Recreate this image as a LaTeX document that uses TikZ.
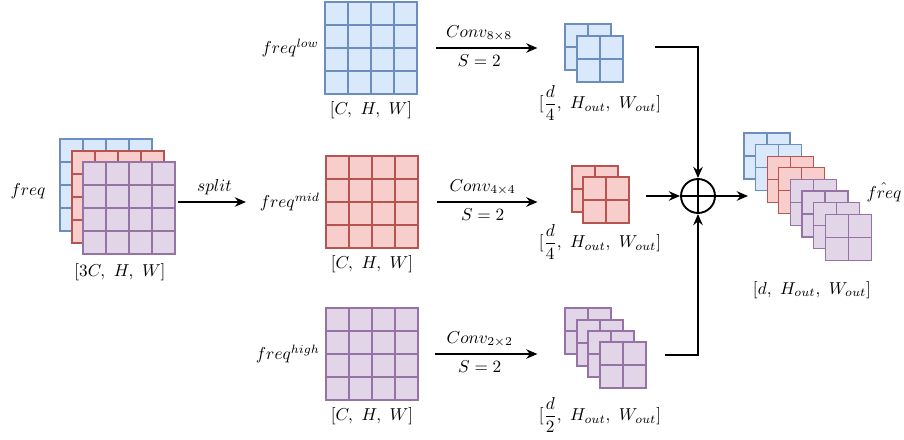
\documentclass[tikz,border=0pt]{standalone}
\usepackage{amsmath}
\usetikzlibrary{arrows.meta,positioning,calc}

\definecolor{bluefill}{HTML}{DAE8FC}
\definecolor{blueline}{HTML}{6C8EBF}
\definecolor{redfill}{HTML}{F8CECC}
\definecolor{redline}{HTML}{B85450}
\definecolor{purplefill}{HTML}{E1D5E7}
\definecolor{purpleline}{HTML}{9673A6}

% feature map: name, x, y (top left), cells per side, colour
\newcommand{\fmap}[5]{%
  \node[fmapbox, fill=#5fill, draw=#5line, minimum size=#4*13.34pt] (#1) at (#2,#3) {};
  \pgfmathtruncatemacro{\fmaplast}{#4-1}
  \foreach \k in {1,...,\fmaplast}{
    \draw[#5line, line width=0.6pt] ($(#1.north west)!\k/#4!(#1.north east)$) -- ($(#1.south west)!\k/#4!(#1.south east)$);
    \draw[#5line, line width=0.6pt] ($(#1.north west)!\k/#4!(#1.south west)$) -- ($(#1.north east)!\k/#4!(#1.south east)$);
  }
}

\begin{document}
\begin{tikzpicture}[x=0.58pt, y=-0.58pt]
  \tikzstyle{fmapbox}=[rectangle, anchor=north west, inner sep=0pt, outer sep=0pt, line width=0.6pt]
  \tikzstyle{flow}=[-{Stealth[length=6.5pt, width=5.5pt]}, line width=1.1pt]
  \tikzstyle{adder}=[circle, draw, line width=1.1pt, minimum size=19.7pt, inner sep=0pt,
                     path picture={\draw[line width=1.1pt]
                       (path picture bounding box.north) -- (path picture bounding box.south)
                       (path picture bounding box.west) -- (path picture bounding box.east);}]
  \useasboundingbox (0,0) rectangle (904,439);

  % input
  \fmap{in1}{60}{139}{4}{blue}
  \fmap{in2}{72}{151}{4}{red}
  \fmap{in3}{83}{162}{4}{purple}
  \node (lfreq) at (28,191) {$freq$};
  \node (din) at (120,272) {$[3C,\ H,\ W]$};

  % split maps
  \fmap{glow}{325}{2}{4}{blue}
  \fmap{gmid}{326}{156}{4}{red}
  \fmap{ghigh}{326}{308}{4}{purple}
  \node[left=0pt of glow.west] (llow) {$freq^{low}$};
  \node[left=0pt of gmid.west] (lmid) {$freq^{mid}$};
  \node[left=0pt of ghigh.west] (lhigh) {$freq^{high}$};
  \node[below=1pt of glow] (dlow) {$[C,\ H,\ W]$};
  \node[below=1pt of gmid] (dmid) {$[C,\ H,\ W]$};
  \node[below=1pt of ghigh] (dhigh) {$[C,\ H,\ W]$};

  \draw[flow, shorten <=2pt, shorten >=4.5pt] (in3.east |- gmid.west) -- (lmid.west |- gmid.west)
    node[midway, above] {$split$};

  % conv outputs
  \fmap{slow1}{565}{24}{2}{blue}
  \fmap{slow2}{577}{36}{2}{blue}
  \fmap{smid1}{572}{166}{2}{red}
  \fmap{smid2}{583}{177}{2}{red}
  \fmap{shigh1}{565}{308}{2}{purple}
  \fmap{shigh2}{577}{320}{2}{purple}
  \fmap{shigh3}{588}{331}{2}{purple}
  \fmap{shigh4}{600}{342}{2}{purple}
  \node (dslow) at (600,103) {$[\dfrac{d}{4},\ H_{out},\ W_{out}]$};
  \node (dsmid) at (600,242) {$[\dfrac{d}{4},\ H_{out},\ W_{out}]$};
  \node (dshigh) at (600,415) {$[\dfrac{d}{2},\ H_{out},\ W_{out}]$};

  \draw[flow, shorten <=11pt, shorten >=16pt] (glow.east) -- (slow1.west |- glow.east)
    node[pos=0.42, above] {$Conv_{8\times8}$} node[pos=0.42, below] {$S=2$};
  \draw[flow, shorten <=11pt, shorten >=20pt] (gmid.east) -- (smid1.west |- gmid.east)
    node[pos=0.42, above] {$Conv_{4\times4}$} node[pos=0.42, below] {$S=2$};
  \draw[flow, shorten <=10pt, shorten >=16pt] (ghigh.east) -- (shigh1.west |- ghigh.east)
    node[pos=0.42, above] {$Conv_{2\times2}$} node[pos=0.42, below] {$S=2$};

  % sum
  \node[adder] (plus) at (698,196) {};
  \coordinate (jlow) at (655,47);
  \coordinate (jmid) at (646,196);
  \coordinate (jhigh) at (665,355);
  \coordinate (jout) at (748,196);
  \draw[flow] (jlow) -| (plus.north);
  \draw[flow] (jmid) -- (plus.west);
  \draw[flow] (jhigh) -| (plus.south);
  \draw[flow] (plus.east) -- (jout);

  % output
  \foreach \c [count=\i from 0] in {blue,blue,red,red,purple,purple,purple,purple}{
    \fmap{o\i}{744+11.6*\i}{133+11.6*\i}{2}{\c}
  }
  \node (lout) at (884,192) {$\hat{freq}$};
  \node (dout) at (812,290) {$[d,\ H_{out},\ W_{out}]$};
\end{tikzpicture}
\end{document}
